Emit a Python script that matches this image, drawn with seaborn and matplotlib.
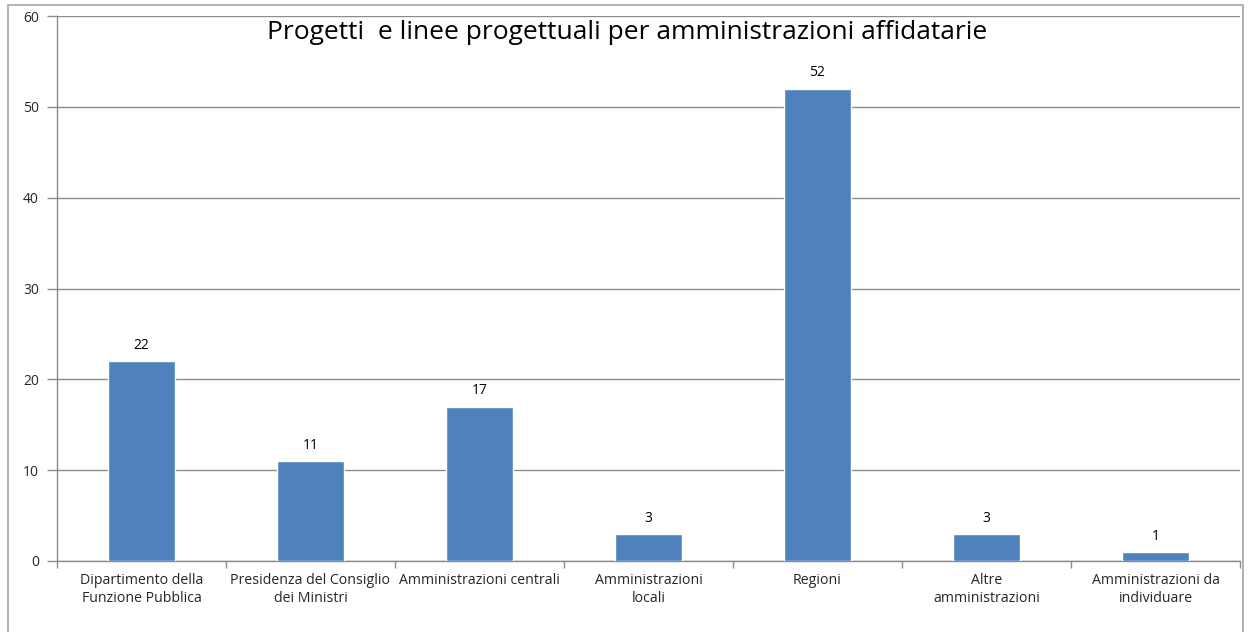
import matplotlib
matplotlib.use("Agg")
import matplotlib.pyplot as plt
import seaborn as sns
import pandas as pd
import numpy as np
from matplotlib.patches import Rectangle

categories = [
    "Dipartimento della\nFunzione Pubblica",
    "Presidenza del Consiglio\ndei Ministri",
    "Amministrazioni centrali",
    "Amministrazioni\nlocali",
    "Regioni",
    "Altre\namministrazioni",
    "Amministrazioni da\nindividuare",
]
values = [22, 11, 17, 3, 52, 3, 1]
y_ticks = [0, 10, 20, 30, 40, 50, 60]
title = "Progetti  e linee progettuali per amministrazioni affidatarie"

sns.set_theme(style="white")
plt.rcParams["font.family"] = ["Open Sans", "DejaVu Sans"]

df = pd.DataFrame({"categoria": categories, "valore": values})

fig = plt.figure(figsize=(12.48, 6.32), dpi=100)
ax = fig.add_axes([57 / 1248, 71 / 632, (1240 - 57) / 1248, (561 - 16) / 632])

sns.barplot(data=df, x="categoria", y="valore", color="#4F81BD",
            width=0.4, saturation=1, ax=ax, zorder=3)

ax.set_ylim(0, 60)
ax.set_xlim(-0.5, len(categories) - 0.5)
ax.set_yticks(y_ticks)
ax.yaxis.grid(True, color="#8c8c8c", linewidth=1.0, zorder=0)
ax.set_axisbelow(True)
ax.set_xlabel("")
ax.set_ylabel("")

for s in ["top", "right"]:
    ax.spines[s].set_visible(False)
for s in ["left", "bottom"]:
    ax.spines[s].set_color("#8c8c8c")
    ax.spines[s].set_linewidth(1.0)

ax.tick_params(axis="y", which="major", direction="out", length=7, width=1,
               color="#8c8c8c", labelsize=10, pad=6, left=True)
ax.tick_params(axis="x", which="major", length=0, labelsize=10.2, pad=9)
ax.set_xticks(np.arange(-0.5, len(categories), 1.0), minor=True)
ax.tick_params(axis="x", which="minor", direction="out", length=5, width=1,
               color="#8c8c8c", bottom=True)

for lbl in ax.get_xticklabels():
    lbl.set_linespacing(1.2)

for i, v in enumerate(values):
    ax.text(i, v + 0.9, str(v), ha="center", va="bottom", fontsize=10,
            color="black", zorder=4)

ax.text(0.482, 0.992, title, transform=ax.transAxes, ha="center", va="top",
        fontsize=19, color="black")

# outer chart frame
fig.patches.append(Rectangle((8 / 1248, -0.05), (1243 - 8) / 1248, 1.05 - 5 / 632,
                             transform=fig.transFigure, fill=False,
                             edgecolor="#a6a6a6", linewidth=1.2))

fig.savefig("out.png", dpi=100)
